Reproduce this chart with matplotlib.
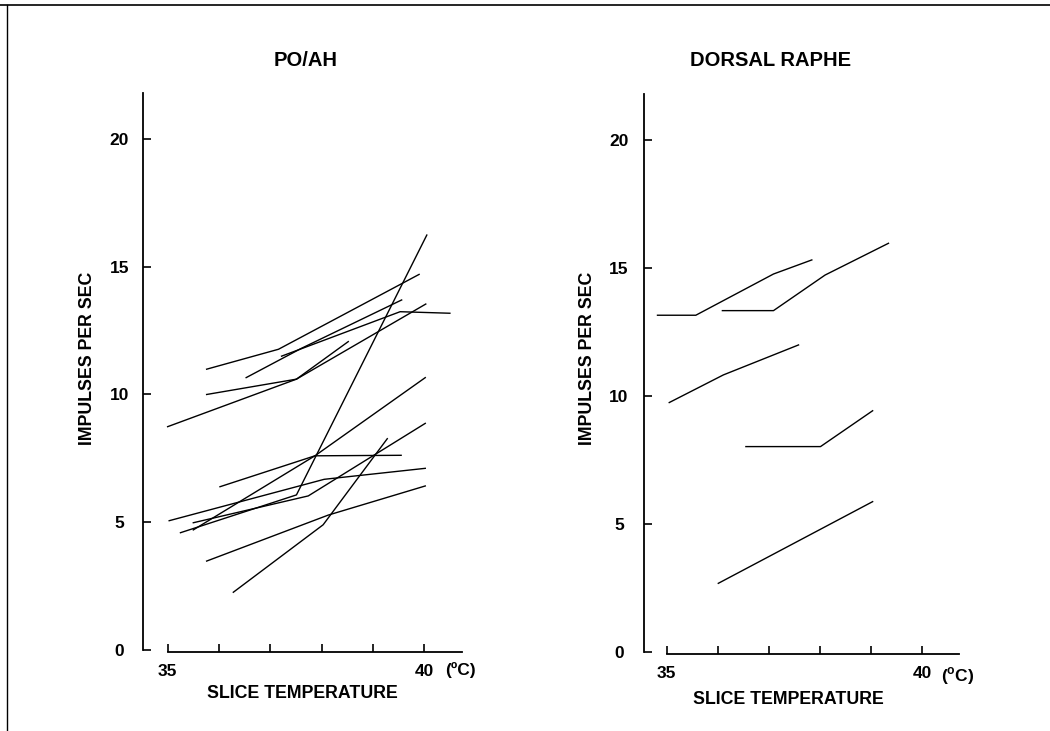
import matplotlib
matplotlib.use('Agg')
import matplotlib.pyplot as plt
from matplotlib.lines import Line2D

plt.rcParams['font.family'] = ['Liberation Sans', 'DejaVu Sans']
plt.rcParams['font.weight'] = 'bold'

# PO/AH neurons: slice temperature (C) and firing rate (impulses/s)
poah_temp = [
    [35.76, 37.16, 39.90],
    [36.53, 37.60, 39.56],
    [37.22, 39.53, 40.50],
    [35.76, 37.51, 38.52],
    [35.00, 37.51, 40.03],
    [36.28, 38.03, 39.28],
    [35.76, 38.13, 40.02],
    [35.03, 38.05, 40.02],
    [36.02, 37.87, 39.55],
    [35.50, 37.87, 40.02],
    [35.25, 37.51, 40.05],
    [35.50, 37.74, 40.02],
]
poah_rate = [
    [10.99, 11.77, 14.70],
    [10.66, 11.80, 13.70],
    [11.50, 13.24, 13.18],
    [10.00, 10.60, 12.07],
    [8.74, 10.60, 13.54],
    [2.26, 4.90, 8.27],
    [3.48, 5.28, 6.42],
    [5.06, 6.68, 7.11],
    [6.39, 7.60, 7.62],
    [4.70, 7.60, 10.66],
    [4.59, 6.07, 16.24],
    [4.98, 6.03, 8.87],
]

# dorsal raphe neurons
dr_temp = [
    [34.82, 35.57, 37.09, 37.84],
    [36.09, 37.09, 38.10, 39.34],
    [35.05, 36.11, 37.58],
    [36.55, 38.01, 39.03],
    [36.01, 39.03],
]
dr_rate = [
    [13.14, 13.14, 14.75, 15.30],
    [13.32, 13.32, 14.71, 15.95],
    [9.73, 10.81, 11.98],
    [8.01, 8.01, 9.41],
    [2.67, 5.86],
]

xticks = [35, 36, 37, 38, 39, 40]
xticklabels = ['35', '', '', '', '', '40']
yticks = [0, 5, 10, 15, 20]

W, H = 1050, 731
fig = plt.figure(figsize=(W / 100, H / 100), dpi=100)


def px(x, y):
    return x / W, 1 - y / H


def setup(ax, xlim, ylim, ypad):
    ax.set_xlim(*xlim)
    ax.set_ylim(*ylim)
    for s in ['top', 'right']:
        ax.spines[s].set_visible(False)
    ax.spines['left'].set_bounds(0, ylim[1])
    ax.spines['bottom'].set_bounds(35, xlim[1])
    ax.spines['left'].set_linewidth(1.3)
    ax.spines['bottom'].set_linewidth(1.3)
    ax.set_xticks(xticks)
    ax.set_xticklabels(xticklabels)
    ax.set_yticks(yticks)
    ax.tick_params(axis='both', direction='in', length=6, width=1.2,
                   labelsize=12.5)
    ax.tick_params(axis='x', pad=9)
    ax.tick_params(axis='y', pad=ypad)
    for t in ax.get_xticklabels():
        t.set_fontweight('bold')
    for t in ax.get_yticklabels():
        t.set_fontweight('bold')
        t.set_horizontalalignment('center')
    ax.patch.set_alpha(0)


ax1 = fig.add_axes([143 / W, 1 - 651.7 / H, 318.7 / W, 558.7 / H])
setup(ax1, (34.52, 40.73), (-0.067, 21.8), 17)
for t, r in zip(poah_temp, poah_rate):
    ax1.plot(t, r, color='black', lw=1.0)

ax2 = fig.add_axes([644 / W, 1 - 654 / H, 315.3 / W, 560 / H])
setup(ax2, (34.556, 40.726), (-0.09, 21.78), 18)
for t, r in zip(dr_temp, dr_rate):
    ax2.plot(t, r, color='black', lw=1.0)

# titles and labels
fig.text(*px(306, 60), 'PO/AH', ha='center', va='center', fontsize=14.5, fontweight='bold')
fig.text(*px(771, 60), 'DORSAL RAPHE', ha='center', va='center', fontsize=14.5, fontweight='bold')
fig.text(*px(88, 358), 'IMPULSES PER SEC', rotation=90, ha='center', va='center',
         fontsize=12.8, fontweight='bold')
fig.text(*px(587, 358), 'IMPULSES PER SEC', rotation=90, ha='center', va='center',
         fontsize=12.8, fontweight='bold')
fig.text(*px(302, 694), 'SLICE TEMPERATURE', ha='center', va='center', fontsize=12.8, fontweight='bold')
fig.text(*px(788, 700), 'SLICE TEMPERATURE', ha='center', va='center', fontsize=12.8, fontweight='bold')
fig.text(*px(460, 670), '(\u00baC)', ha='center', va='center', fontsize=12.5, fontweight='bold')
fig.text(*px(958, 676), '($^\\mathregular{o}$C)', ha='center', va='center', fontsize=12.5, fontweight='bold')

# scanned page border
fig.add_artist(Line2D([0, 1], [1 - 5 / H, 1 - 5 / H], color='black', lw=1.2))
fig.add_artist(Line2D([7 / W, 7 / W], [0, 1 - 5 / H], color='black', lw=1.0))

fig.savefig('out.png', dpi=100)
